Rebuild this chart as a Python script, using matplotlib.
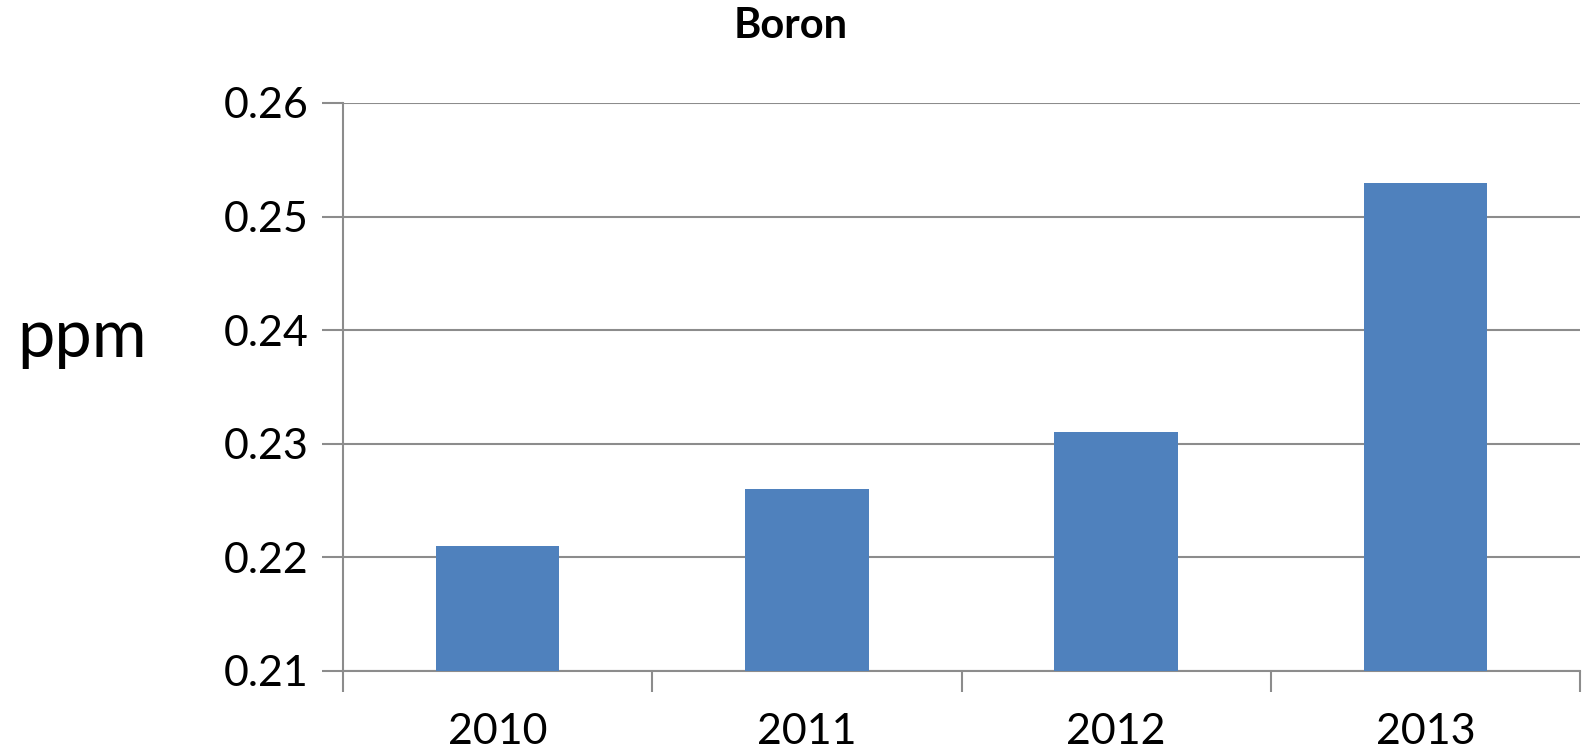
import numpy as np
import matplotlib.pyplot as plt

plt.rcParams['font.family'] = ['Lato', 'DejaVu Sans']

years = ['2010', '2011', '2012', '2013']
boron = [0.221, 0.226, 0.231, 0.253]
yticks = [0.21, 0.22, 0.23, 0.24, 0.25, 0.26]

grey = '#8c8c8c'
fig = plt.figure(figsize=(15.82, 7.52), dpi=100)
ax = fig.add_axes([343/1582, 81/752, 1237/1582, 568/752])

x = np.arange(len(years))
ax.bar(x, boron, width=0.4, color='#4f81bd', zorder=3)

ax.set_xlim(-0.5, len(years) - 0.5)
ax.set_ylim(0.21, 0.26)
ax.set_yticks(yticks)
ax.set_yticklabels(['%.2f' % v for v in yticks], fontsize=31)
ax.set_xticks(x)
ax.set_xticklabels(years, fontsize=31)
ax.set_xticks(np.arange(len(years) + 1) - 0.5, minor=True)

ax.tick_params(axis='x', which='major', length=0, pad=30)
ax.tick_params(axis='x', which='minor', length=15, width=1.5, color=grey)
ax.tick_params(axis='y', length=15, width=1.5, color=grey, pad=10)
ax.grid(axis='y', color=grey, linewidth=1.5, zorder=0)

for s in ['top', 'right']:
    ax.spines[s].set_visible(False)
for s in ['left', 'bottom']:
    ax.spines[s].set_color(grey)
    ax.spines[s].set_linewidth(1.5)

fig.text(0.5, 0.965, 'Boron', ha='center', va='center', fontsize=30, fontweight='bold')
fig.text(0.052, 0.55, 'ppm', ha='center', va='center', fontsize=48)

fig.savefig('out.png', dpi=100)
